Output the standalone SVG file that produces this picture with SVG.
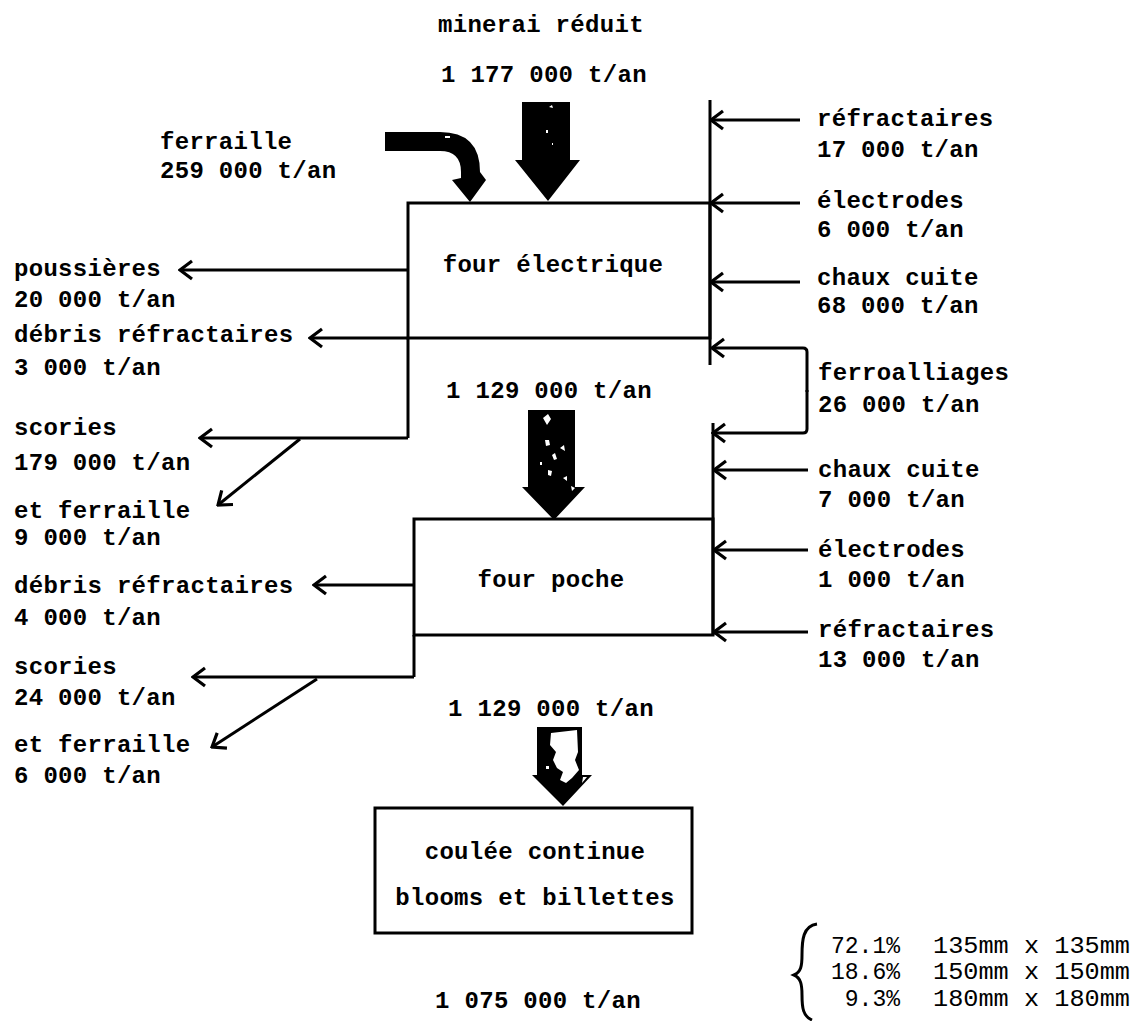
<svg xmlns="http://www.w3.org/2000/svg" width="1133" height="1021" viewBox="0 0 1133 1021">
<style>
  .t { font-family: "Liberation Mono", "Courier New", monospace; font-size: 24px; font-weight: bold; letter-spacing: 0.3px; fill: #000; }
  .c { text-anchor: middle; }
  .lg { font-family: "Liberation Mono", "Courier New", monospace; font-size: 23px; fill: #000; }
  .box { fill: none; stroke: #000; stroke-width: 3; }
  .ln { fill: none; stroke: #000; stroke-width: 3; }
  .ar { fill: none; stroke: #000; stroke-width: 3; marker-end: url(#chev); }
  .big { fill: #000; }
  .speck { fill: #fff; }
</style>
<defs>
  <marker id="chev" markerUnits="userSpaceOnUse" markerWidth="18" markerHeight="22" viewBox="0 0 18 22" refX="16" refY="11" orient="auto">
    <path d="M4,2 L16,11 L4,20" fill="none" stroke="#000" stroke-width="3.2"/>
  </marker>
</defs>
<rect width="1133" height="1021" fill="#fff"/>

<!-- Nodes -->
<g id="four-electrique">
  <rect class="box" x="408" y="203" width="302" height="135"/>
  <text class="t c" x="553" y="272">four électrique</text>
</g>
<g id="four-poche">
  <rect class="box" x="414" y="519" width="299" height="116"/>
  <text class="t c" x="551" y="587">four poche</text>
</g>
<g id="coulee-continue">
  <rect class="box" x="375" y="808" width="317" height="125"/>
  <text class="t c" x="535" y="859">coulée continue</text>
  <text class="t c" x="535" y="905">blooms et billettes</text>
</g>

<!-- Connectors -->
<g id="connectors">
  <!-- main flow arrows -->
  <path class="big" d="M522,102 L570,102 L570,160 L580,160 L548,201 L515,160 L522,160 Z"/>
  <path class="speck" d="M549,107 l3,-2 l1,3 z M546,130 l2,0 l0,3 l-2,0 z M552,143 l1,0 l0,2 l-1,0 z"/>
  <path class="big" d="M385,132 L440,132 Q480,132 480,172 L486,180 L470,202 L452,180 L461,178 L461,172 Q461,151 440,151 L385,151 Z"/>
  <path class="speck" d="M445,136 l5,0 l0,2 l-5,0 z"/>
  <path class="big" d="M528,410 L575,410 L575,487 L585,487 L554,520 L522,487 L528,487 Z"/>
  <path class="speck" d="M543,418 l5,-4 l3,5 l-4,6 z M545,440 l4,0 l1,5 l-4,1 z M552,455 l3,-2 l2,6 l-3,1 z M560,448 l4,-3 l1,6 z M548,470 l4,1 l-1,5 l-3,-1 z M563,478 l4,-2 l0,5 z M540,462 l2,0 l0,3 l-2,0 z M571,486 l4,2 l-3,3 z"/>
  <path class="big" d="M537,727 L582,727 L582,775 L592,775 L563,806 L532,775 L537,775 Z"/>
  <path class="speck" d="M551,733 L577,730 L578,752 L575,760 L579,770 L572,778 L566,783 L560,780 L563,772 L557,768 L553,760 L556,752 L550,745 Z M546,766 l3,0 l0,3 l-3,0 z M583,777 l4,0 l-5,6 z"/>

  <!-- four électrique outputs -->
  <path class="ln" d="M408,338 L408,438"/>
  <path class="ar" d="M408,270 L180,270"/>
  <path class="ar" d="M408,338 L310,338"/>
  <path class="ar" d="M408,438 L200,438"/>
  <path class="ar" d="M300,439 L218,505"/>

  <!-- four électrique inputs -->
  <path class="ln" d="M710,100 L710,365"/>
  <path class="ar" d="M800,120 L711,120"/>
  <path class="ar" d="M800,203 L711,203"/>
  <path class="ar" d="M800,282 L711,282"/>

  <!-- ferroalliages bracket -->
  <path class="ar" d="M807,392 L807,352 Q807,348 803,348 L712,348"/>
  <path class="ar" d="M807,390 L807,429 Q807,433 803,433 L713,433"/>

  <!-- four poche inputs -->
  <path class="ln" d="M713,423 L713,635"/>
  <path class="ar" d="M808,470 L714,470"/>
  <path class="ar" d="M808,550 L714,550"/>
  <path class="ar" d="M808,632 L714,632"/>

  <!-- four poche outputs -->
  <path class="ln" d="M414,635 L414,677"/>
  <path class="ar" d="M414,585 L314,585"/>
  <path class="ar" d="M414,677 L193,677"/>
  <path class="ar" d="M317,679 L212,747"/>

  <!-- brace -->
  <path class="ln" d="M817,924 C803,926 802,940 802,955 C802,966 801,972 794,975 C801,978 802,985 802,995 C802,1008 803,1016 812,1020" stroke-width="2.5"/>
</g>

<!-- Labels -->
<g id="labels">
  <text class="t" x="438" y="32">minerai réduit</text>
  <text class="t" x="441" y="82">1 177 000 t/an</text>
  <text class="t" x="160" y="149">ferraille</text>
  <text class="t" x="160" y="178">259 000 t/an</text>
  <text class="t c" x="549" y="398">1 129 000 t/an</text>
  <text class="t c" x="551" y="716">1 129 000 t/an</text>
  <text class="t c" x="538" y="1008">1 075 000 t/an</text>

  <text class="t" x="14" y="276">poussières</text>
  <text class="t" x="14" y="307">20 000 t/an</text>
  <text class="t" x="14" y="342">débris réfractaires</text>
  <text class="t" x="14" y="375">3 000 t/an</text>
  <text class="t" x="14" y="435">scories</text>
  <text class="t" x="14" y="470">179 000 t/an</text>
  <text class="t" x="14" y="518">et ferraille</text>
  <text class="t" x="14" y="545">9 000 t/an</text>
  <text class="t" x="14" y="593">débris réfractaires</text>
  <text class="t" x="14" y="625">4 000 t/an</text>
  <text class="t" x="14" y="674">scories</text>
  <text class="t" x="14" y="705">24 000 t/an</text>
  <text class="t" x="14" y="752">et ferraille</text>
  <text class="t" x="14" y="783">6 000 t/an</text>

  <text class="t" x="817" y="126">réfractaires</text>
  <text class="t" x="817" y="157">17 000 t/an</text>
  <text class="t" x="817" y="208">électrodes</text>
  <text class="t" x="817" y="237">6 000 t/an</text>
  <text class="t" x="817" y="285">chaux cuite</text>
  <text class="t" x="817" y="313">68 000 t/an</text>
  <text class="t" x="818" y="380">ferroalliages</text>
  <text class="t" x="818" y="412">26 000 t/an</text>
  <text class="t" x="818" y="477">chaux cuite</text>
  <text class="t" x="818" y="507">7 000 t/an</text>
  <text class="t" x="818" y="557">électrodes</text>
  <text class="t" x="818" y="587">1 000 t/an</text>
  <text class="t" x="818" y="637">réfractaires</text>
  <text class="t" x="818" y="667">13 000 t/an</text>

  <text class="lg" x="900" y="953" text-anchor="end">72.1%</text>
  <text class="lg" x="900" y="979" text-anchor="end">18.6%</text>
  <text class="lg" x="900" y="1006" text-anchor="end">9.3%</text>
  <text class="lg" x="933" y="953" textLength="197" lengthAdjust="spacingAndGlyphs">135mm x 135mm</text>
  <text class="lg" x="933" y="979" textLength="197" lengthAdjust="spacingAndGlyphs">150mm x 150mm</text>
  <text class="lg" x="933" y="1006" textLength="197" lengthAdjust="spacingAndGlyphs">180mm x 180mm</text>
</g>
</svg>
